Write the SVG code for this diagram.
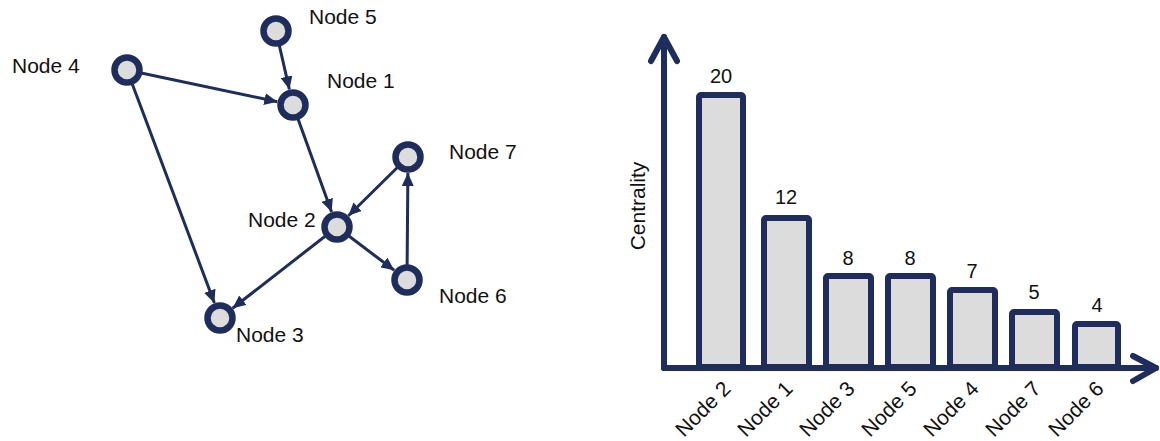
<svg xmlns="http://www.w3.org/2000/svg" width="1160" height="441" viewBox="0 0 1160 441">
<style>
.edge{stroke:#1e2d5b;stroke-width:3;fill:none;marker-end:url(#ah)}
.node{fill:#dcdcdc;stroke:#1e2d5b;stroke-width:6.5}
.lbl{font-family:"Liberation Sans",Arial,sans-serif;font-size:21px;fill:#111}
.val{font-family:"Liberation Sans",Arial,sans-serif;font-size:20px;fill:#111;text-anchor:middle}
.xl{font-family:"Liberation Sans",Arial,sans-serif;font-size:21px;fill:#111;text-anchor:end}
.bar{fill:#dcdcdc;stroke:#1e2d5b;stroke-width:6;stroke-linejoin:round}
.axis{stroke:#1e2d5b;stroke-width:6;fill:none;stroke-linecap:round;stroke-linejoin:round}
</style>
<defs>
<marker id="ah" markerUnits="userSpaceOnUse" markerWidth="14" markerHeight="12" refX="13" refY="6" orient="auto">
<path d="M0,0 L13,6 L0,12 z" fill="#1e2d5b"/>
</marker>
</defs>
<g id="connectors">
<line class="edge" x1="127" y1="70" x2="277.3" y2="101.7"/>
<line class="edge" x1="276" y1="31" x2="289.4" y2="89.4"/>
<line class="edge" x1="293" y1="105" x2="331.6" y2="212"/>
<line class="edge" x1="408" y1="157" x2="348.4" y2="215.8"/>
<line class="edge" x1="407" y1="280" x2="407.9" y2="173"/>
<line class="edge" x1="337" y1="227" x2="394.2" y2="270.3"/>
<line class="edge" x1="337" y1="227" x2="232.6" y2="308.2"/>
<line class="edge" x1="127" y1="70" x2="214.4" y2="303"/>
</g>
<g id="node5"><circle class="node" cx="276" cy="31" r="12.5"/><text class="lbl" x="309" y="24">Node 5</text></g>
<g id="node4"><circle class="node" cx="127" cy="70" r="12.5"/><text class="lbl" x="12" y="73">Node 4</text></g>
<g id="node1"><circle class="node" cx="293" cy="105" r="12.5"/><text class="lbl" x="327" y="88">Node 1</text></g>
<g id="node7"><circle class="node" cx="408" cy="157" r="12.5"/><text class="lbl" x="449" y="159">Node 7</text></g>
<g id="node2"><circle class="node" cx="337" cy="227" r="12.5"/><text class="lbl" x="248" y="227">Node 2</text></g>
<g id="node6"><circle class="node" cx="407" cy="280" r="12.5"/><text class="lbl" x="439" y="303">Node 6</text></g>
<g id="node3"><circle class="node" cx="220" cy="318" r="12.5"/><text class="lbl" x="236" y="342">Node 3</text></g>
<g id="chart">
<rect class="bar" x="699" y="95" width="44" height="272" rx="2"/>
<rect class="bar" x="764" y="218" width="45" height="149" rx="2"/>
<rect class="bar" x="826" y="276" width="45" height="91" rx="2"/>
<rect class="bar" x="888" y="276" width="45" height="91" rx="2"/>
<rect class="bar" x="950" y="290" width="45" height="77" rx="2"/>
<rect class="bar" x="1012" y="312" width="45" height="55" rx="2"/>
<rect class="bar" x="1075" y="324" width="43" height="43" rx="2"/>
<polyline class="axis" points="664,368 664,37"/>
<polyline class="axis" points="651,61 664,37 677,61"/>
<polyline class="axis" points="664,368 1156,368"/>
<polyline class="axis" points="1133,356 1156,368 1133,381"/>
<text class="val" x="721" y="83">20</text>
<text class="val" x="786" y="204">12</text>
<text class="val" x="848" y="265">8</text>
<text class="val" x="910" y="265">8</text>
<text class="val" x="972" y="278">7</text>
<text class="val" x="1034" y="299">5</text>
<text class="val" x="1097" y="312">4</text>
<text class="xl" transform="translate(732,390) rotate(-45)">Node 2</text>
<text class="xl" transform="translate(794,390) rotate(-45)">Node 1</text>
<text class="xl" transform="translate(856,390) rotate(-45)">Node 3</text>
<text class="xl" transform="translate(918,390) rotate(-45)">Node 5</text>
<text class="xl" transform="translate(980,390) rotate(-45)">Node 4</text>
<text class="xl" transform="translate(1042,390) rotate(-45)">Node 7</text>
<text class="xl" transform="translate(1105,390) rotate(-45)">Node 6</text>
<text class="lbl" text-anchor="middle" font-size="20" transform="translate(645,206) rotate(-90)">Centrality</text>
</g>
</svg>
